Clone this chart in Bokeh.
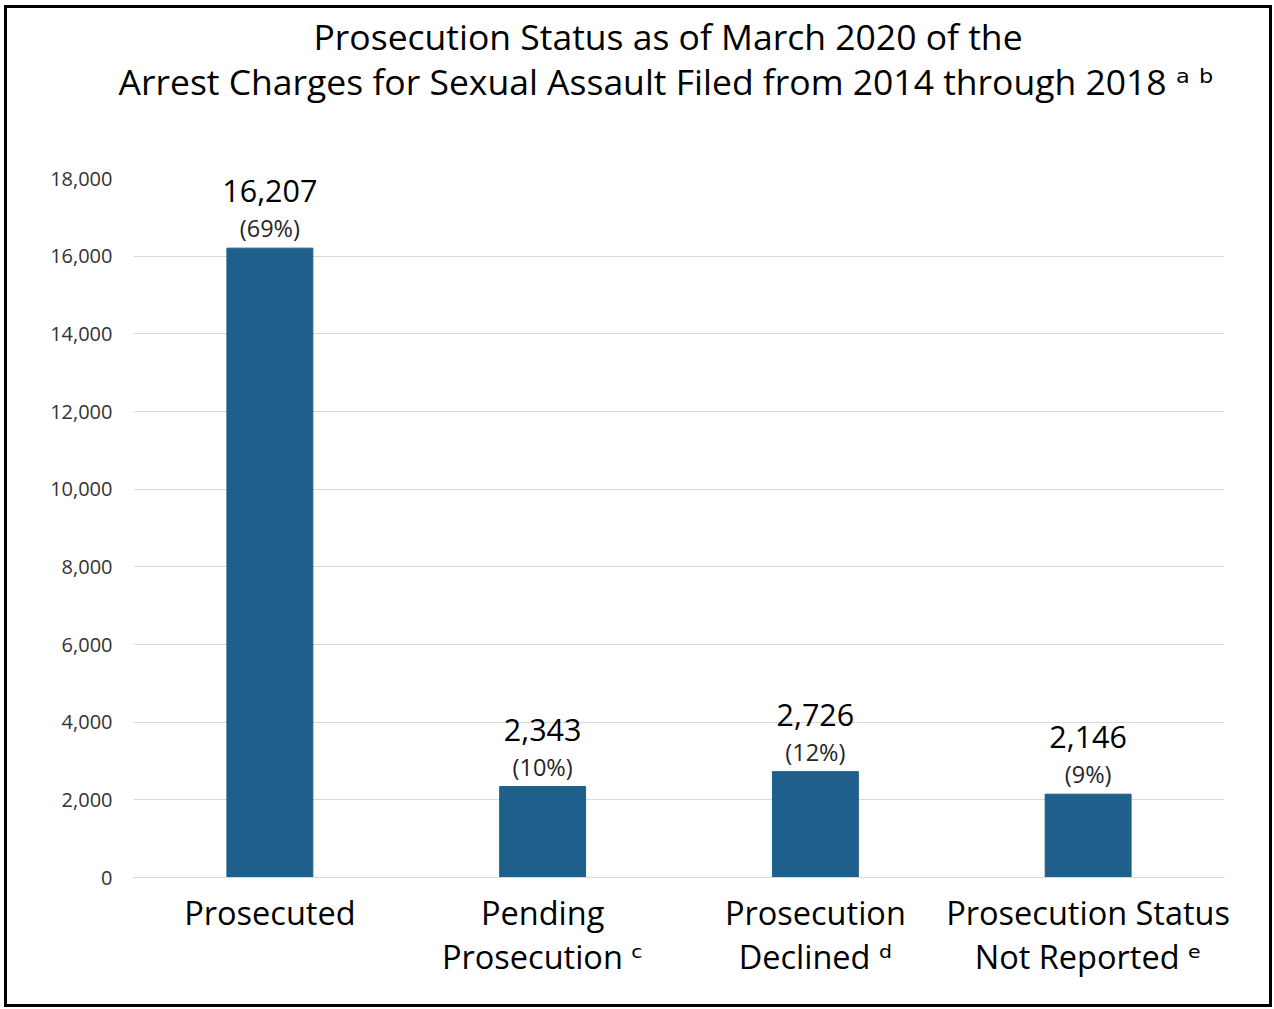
from bokeh.plotting import figure
from bokeh.models import ColumnDataSource, NumeralTickFormatter, FixedTicker, Range1d, Title
from bokeh.embed import file_html
from bokeh.resources import INLINE
from bokeh.core.properties import value

title_line1 = "Prosecution Status as of March 2020 of the"
title_line2 = "Arrest Charges for Sexual Assault Filed from 2014 through 2018 \u1d43 \u1d47"
categories = ["Prosecuted", "Pending\nProsecution \u1d9c", "Prosecution\nDeclined \u1d48",
              "Prosecution Status\nNot Reported \u1d49"]
counts = [16207, 2343, 2726, 2146]
count_labels = ["16,207", "2,343", "2,726", "2,146"]
pct_labels = ["(69%)", "(10%)", "(12%)", "(9%)"]
y_ticks = [0, 2000, 4000, 6000, 8000, 10000, 12000, 14000, 16000, 18000]

FONT = "'Open Sans', 'DejaVu Sans', sans-serif"

src = ColumnDataSource(dict(cat=categories, cnt=counts, cl=count_labels, pl=pct_labels))

p = figure(x_range=categories, y_range=Range1d(0, 18000), width=1268, height=1002,
           output_backend="svg", toolbar_location=None, title=None,
           min_border_left=126, min_border_right=51, min_border_top=170, min_border_bottom=133)
p.styles = {"border": "3px solid black", "margin-left": "4px", "margin-top": "5px",
            "box-sizing": "border-box"}

t2 = Title(text=title_line2, align="left", offset=-15, vertical_align="top",
           text_font=FONT, text_font_size="35.5px", text_font_style="normal",
           text_color="#000000", standoff=-244)
t1 = Title(text=title_line1, align="left", offset=180, vertical_align="top",
           text_font=FONT, text_font_size="35.5px", text_font_style="normal",
           text_color="#000000", standoff=-334)
p.add_layout(t2, "above")
p.add_layout(t1, "above")

p.vbar(x="cat", top="cnt", width=0.315, source=src, color="#1F5F8B")

p.text(x="cat", y="cnt", text="cl", source=src, y_offset=-57, text_align="center",
       text_baseline="middle", text_font=value(FONT), text_font_size="30.5px", text_color="#000000")
p.text(x="cat", y="cnt", text="pl", source=src, y_offset=-20, text_align="center",
       text_baseline="middle", text_font=value(FONT), text_font_size="23.5px", text_color="#262626")

p.outline_line_color = None
p.xgrid.grid_line_color = None
p.ygrid.grid_line_color = "#D9D9D9"
p.ygrid.grid_line_width = 1

p.yaxis.ticker = FixedTicker(ticks=y_ticks)
p.yaxis.formatter = NumeralTickFormatter(format="0,0")
p.yaxis.axis_line_color = None
p.yaxis.major_tick_line_color = None
p.yaxis.minor_tick_line_color = None
p.yaxis.major_label_text_font = FONT
p.yaxis.major_label_text_font_size = "20px"
p.yaxis.major_label_text_color = "#333333"
p.yaxis.major_label_standoff = 15

p.xaxis.axis_line_color = "#D9D9D9"
p.xaxis.major_tick_line_color = None
p.xaxis.minor_tick_line_color = None
p.xaxis.major_label_text_font = FONT
p.xaxis.major_label_text_font_size = "32.5px"
p.xaxis.major_label_text_line_height = 0.985
p.xaxis.major_label_text_color = "#000000"
p.xaxis.major_label_standoff = 6

open("out.html", "w").write(file_html(p, INLINE))
